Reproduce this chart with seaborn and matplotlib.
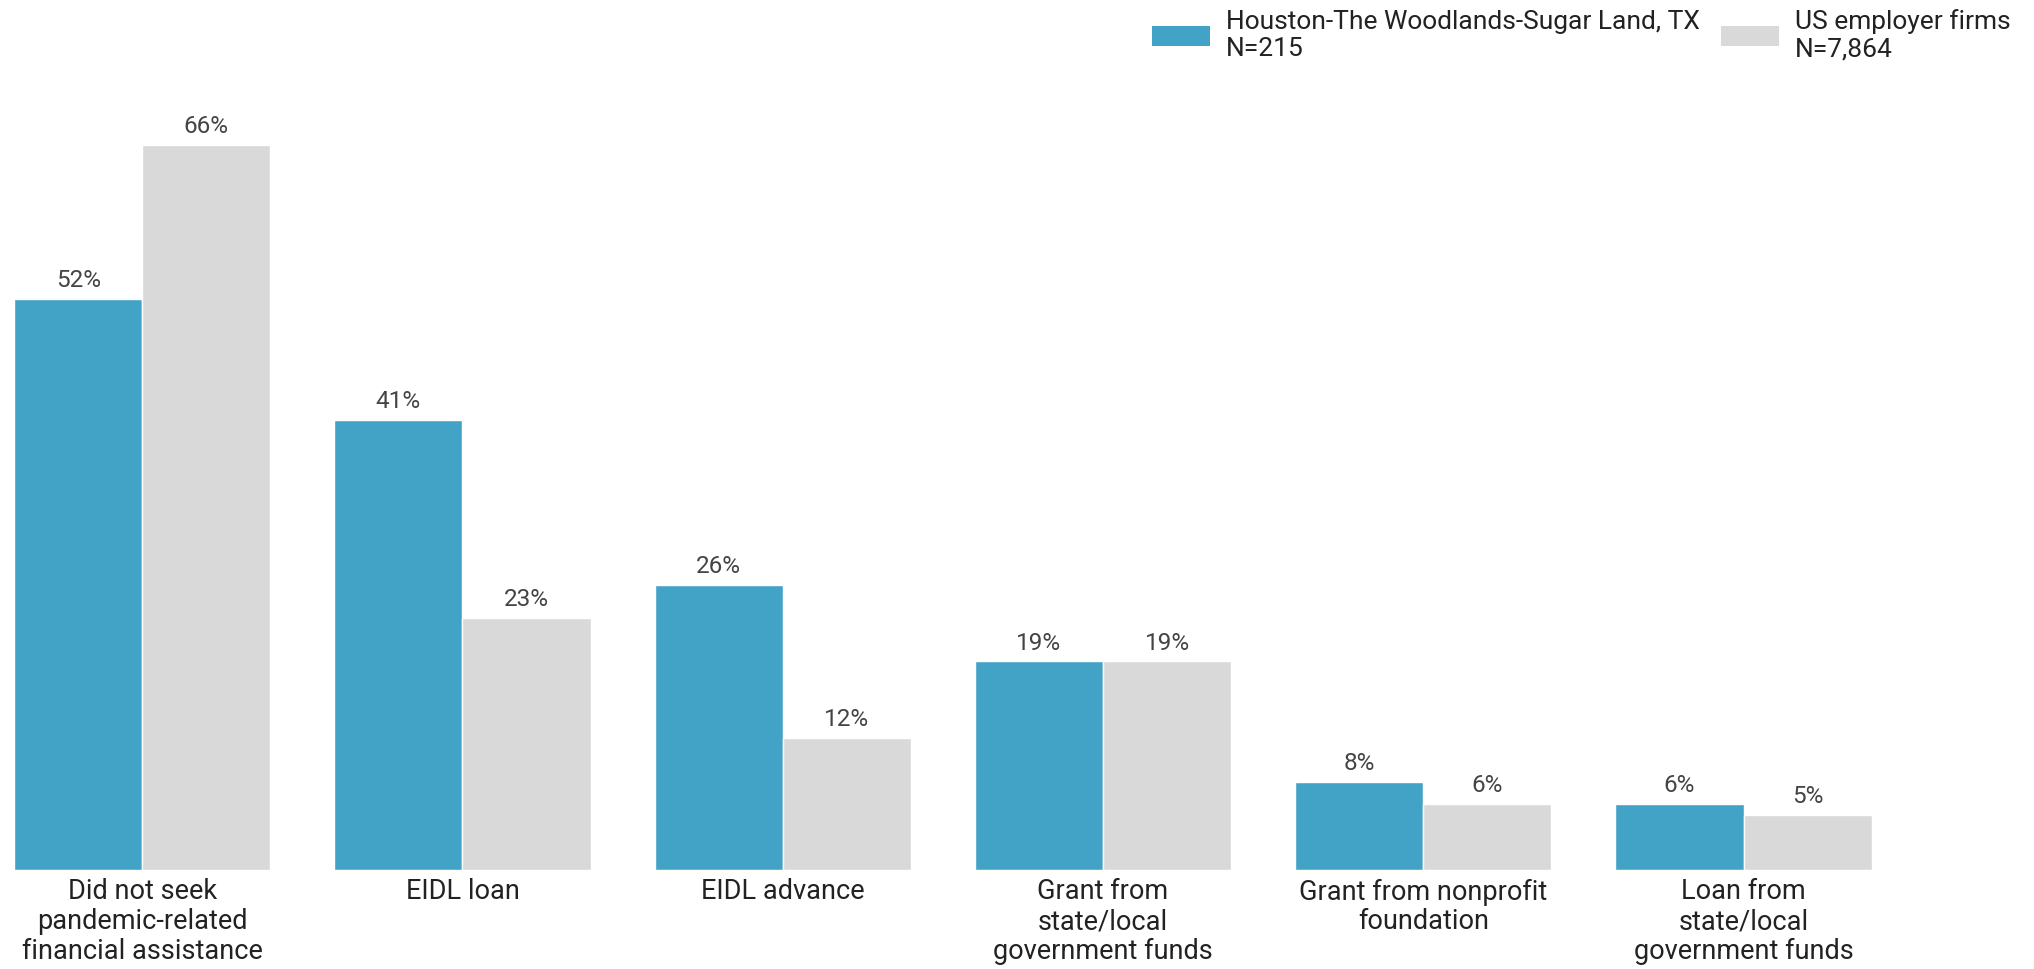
import pandas as pd
import matplotlib
matplotlib.use("Agg")
from matplotlib import pyplot as plt
from matplotlib.patches import Patch
import seaborn as sns

# === Data ===
categories = [
    "Did not seek\npandemic-related\nfinancial assistance",
    "EIDL loan",
    "EIDL advance",
    "Grant from\nstate/local\ngovernment funds",
    "Grant from nonprofit\nfoundation",
    "Loan from\nstate/local\ngovernment funds",
]
houston = [52, 41, 26, 19, 8, 6]
us_firms = [66, 23, 12, 19, 6, 5]
series_names = ["Houston-The Woodlands-Sugar Land, TX\nN=215", "US employer firms\nN=7,864"]
colors = ["#42A3C6", "#D9D9D9"]

df = pd.DataFrame({
    "category": categories * 2,
    "value": houston + us_firms,
    "series": [series_names[0]] * len(categories) + [series_names[1]] * len(categories),
})

sns.set_style("white")
plt.rcParams['font.family'] = ['Roboto', 'DejaVu Sans']

fig = plt.figure(figsize=(20.34, 9.69), dpi=100)
ax = fig.add_axes([0, 0.102, 1, 0.815])

sns.barplot(data=df, x="category", y="value", hue="series", order=categories,
            hue_order=series_names, palette=colors, width=0.8, saturation=1,
            ax=ax, edgecolor="white", linewidth=1, legend=False)

for cont in ax.containers:
    ax.bar_label(cont, fmt="%d%%", padding=5, fontsize=17.5, color="#444444")

ax.set_xlim(-0.444, 5.907)
ax.set_ylim(0, 71.9)
ax.set_xlabel("")
ax.set_ylabel("")
ax.set_yticks([])
ax.tick_params(axis="x", length=0, pad=6, labelsize=19.5, labelcolor="#222222")
for lbl in ax.get_xticklabels():
    lbl.set_linespacing(1.12)
sns.despine(ax=ax, left=True, bottom=True, top=True, right=True)

# legend at top right
handles = [Patch(facecolor=c, edgecolor="none") for c in colors]
leg = fig.legend(handles, series_names, loc="upper right", bbox_to_anchor=(1.0, 1.015),
                 ncol=2, frameon=False, fontsize=19, handlelength=2.2, handleheight=0.8,
                 handletextpad=0.6, columnspacing=0.8, labelcolor="#222222",
                 labelspacing=0.2)
for t in leg.get_texts():
    t.set_linespacing(1.2)

plt.savefig("out.png", dpi=100)
plt.close()
